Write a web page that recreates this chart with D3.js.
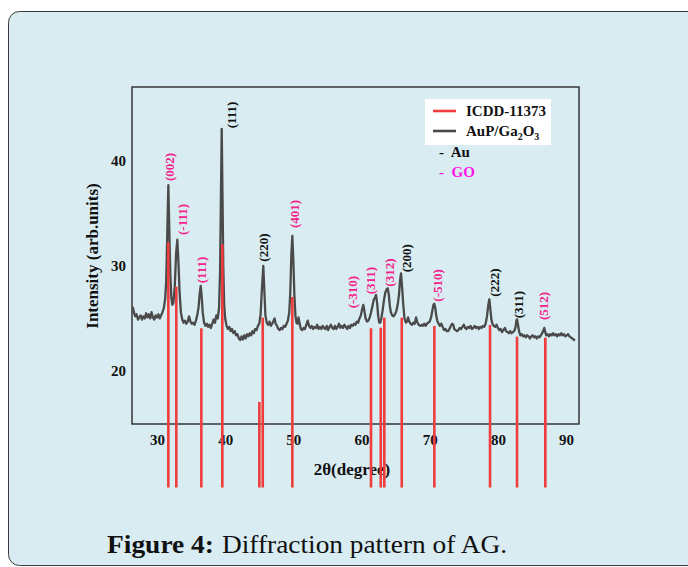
<!DOCTYPE html>
<html>
<head>
<meta charset="utf-8">
<script src="https://cdn.jsdelivr.net/npm/d3@7"></script>
<style>
  html, body { margin: 0; padding: 0; background: #ffffff; }
  svg { display: block; }
</style>
</head>
<body>
<svg id="canvas"></svg>
<script>
// ---- data ----
const xTicks = [30, 40, 50, 60, 70, 80, 90];
const yTicks = [20, 30, 40];

// ICDD-11373 reference lines: [2theta, intensity top]
const icddPeaks = [
  [31.66, 32.26], [32.83, 28.03], [36.50, 24.07], [39.58, 32.07],
  [45.01, 17.05], [45.51, 25.08], [49.85, 27.05], [61.39, 24.07],
  [62.82, 24.12], [63.34, 25.08], [65.90, 25.08], [70.68, 24.29],
  [78.85, 24.38], [82.81, 23.27], [86.96, 23.17]
];
const icddBase = 8.9;   // lines run down below the frame

// AuP/Ga2O3 measured pattern: [2theta, intensity]
const scan = [
  [26.45,26.1],[26.6,25.6],[26.8,25.2],[27.0,25.4],[27.2,24.9],[27.4,25.1],[27.6,25.3],[27.8,24.9],
  [28.0,25.2],[28.2,25.0],[28.4,25.5],[28.6,25.1],[28.8,25.4],[29.0,25.0],[29.2,25.6],[29.4,25.1],
  [29.6,24.9],[29.8,25.3],[30.0,25.1],[30.2,25.4],[30.4,25.0],[30.6,25.3],[30.8,25.6],[31.0,26.0],
  [31.2,26.9],[31.35,28.6],[31.5,33.0],[31.66,37.7],[31.8,33.5],[31.95,29.2],[32.1,27.0],[32.25,26.3],
  [32.4,26.5],[32.6,28.0],[32.8,31.2],[32.98,32.5],[33.15,30.2],[33.3,27.6],[33.5,25.6],[33.7,24.9],
  [33.9,24.6],[34.1,24.8],[34.3,24.5],[34.5,24.7],[34.7,25.2],[34.9,24.7],[35.1,24.5],[35.3,24.6],
  [35.5,24.4],[35.7,24.8],[35.9,25.3],[36.1,26.1],[36.25,27.3],[36.41,28.1],[36.55,27.1],[36.7,25.6],
  [36.9,24.6],[37.1,24.3],[37.3,24.5],[37.5,24.2],[37.7,24.4],[37.9,24.1],[38.1,24.5],[38.3,24.9],
  [38.5,24.6],[38.7,25.3],[38.9,25.0],[39.1,26.0],[39.25,29.5],[39.38,37.0],[39.49,43.05],[39.6,37.0],
  [39.72,30.0],[39.85,26.3],[40.0,25.0],[40.2,24.3],[40.4,24.0],[40.6,24.2],[40.8,23.8],[41.0,24.0],
  [41.2,23.6],[41.4,23.8],[41.6,23.4],[41.8,23.5],[42.0,23.1],[42.2,22.95],[42.4,23.3],[42.6,23.0],
  [42.8,23.4],[43.0,23.1],[43.2,23.5],[43.4,23.3],[43.6,23.6],[43.8,23.4],[44.0,23.8],[44.2,23.6],
  [44.4,24.0],[44.6,23.9],[44.8,24.3],[45.0,24.5],[45.2,25.4],[45.4,28.0],[45.59,30.0],[45.75,27.6],
  [45.9,25.3],[46.1,24.6],[46.3,24.4],[46.5,24.7],[46.7,24.3],[46.9,24.5],[47.1,24.8],[47.25,25.0],
  [47.4,24.5],[47.6,24.3],[47.8,24.0],[48.0,23.9],[48.2,24.1],[48.4,24.0],[48.6,24.3],[48.8,24.2],
  [49.0,24.5],[49.2,24.8],[49.4,25.6],[49.55,27.5],[49.7,31.0],[49.85,32.86],[50.0,30.5],[50.15,27.2],
  [50.3,25.3],[50.45,24.6],[50.6,24.5],[50.75,25.1],[50.9,24.6],[51.1,24.0],[51.3,23.9],[51.5,24.1],
  [51.7,24.0],[51.9,24.4],[52.1,24.8],[52.3,24.3],[52.5,24.1],[52.7,24.3],[52.9,24.0],[53.1,24.2],
  [53.3,24.1],[53.5,24.4],[53.7,24.0],[53.9,24.2],[54.1,24.0],[54.3,24.3],[54.5,24.1],[54.7,24.0],
  [54.9,24.3],[55.1,23.9],[55.3,24.2],[55.5,24.4],[55.7,24.1],[55.9,24.0],[56.1,24.3],[56.3,24.0],
  [56.5,24.2],[56.7,24.5],[56.9,24.1],[57.1,24.3],[57.3,24.1],[57.5,24.4],[57.7,24.2],[57.9,24.0],
  [58.1,24.3],[58.3,24.1],[58.5,24.4],[58.7,24.3],[58.9,24.5],[59.1,24.4],[59.3,24.7],[59.5,24.6],
  [59.7,25.0],[59.9,25.3],[60.1,25.9],[60.26,26.3],[60.4,25.8],[60.6,25.0],[60.8,24.7],[61.0,24.8],
  [61.2,25.1],[61.4,25.6],[61.6,26.2],[61.8,26.8],[62.0,27.0],[62.13,27.24],[62.3,26.4],[62.45,25.2],
  [62.6,24.6],[62.75,24.6],[62.9,25.0],[63.1,25.8],[63.3,26.8],[63.5,27.5],[63.7,27.8],[63.84,27.88],
  [64.0,27.3],[64.15,26.2],[64.3,25.6],[64.5,25.3],[64.7,25.2],[64.9,25.4],[65.1,25.7],[65.3,26.3],
  [65.5,27.3],[65.65,28.6],[65.79,29.3],[65.95,28.0],[66.1,26.5],[66.3,25.0],[66.5,24.6],[66.65,24.7],
  [66.82,25.1],[67.0,24.7],[67.2,24.5],[67.4,24.4],[67.6,24.6],[67.8,24.5],[68.0,25.1],[68.2,24.6],
  [68.4,24.4],[68.6,24.3],[68.8,24.4],[69.0,24.3],[69.2,24.5],[69.4,24.3],[69.6,24.5],[69.8,24.6],
  [70.0,24.7],[70.2,25.1],[70.4,25.8],[70.55,26.3],[70.68,26.4],[70.82,26.0],[70.95,25.3],[71.1,24.8],
  [71.3,24.5],[71.5,24.3],[71.7,24.5],[71.9,24.2],[72.1,23.9],[72.3,24.0],[72.5,23.8],[72.7,23.8],
  [72.9,24.0],[73.1,24.3],[73.3,24.5],[73.46,24.4],[73.6,24.0],[73.8,23.9],[74.0,23.8],[74.2,23.9],
  [74.4,24.1],[74.6,24.0],[74.8,24.2],[75.0,24.4],[75.2,24.1],[75.4,24.0],[75.6,24.2],[75.8,24.1],
  [76.0,24.3],[76.2,24.0],[76.4,24.1],[76.6,24.3],[76.8,24.1],[77.0,24.2],[77.2,24.0],[77.4,24.2],
  [77.6,24.1],[77.8,24.3],[78.0,24.2],[78.2,24.5],[78.4,25.2],[78.6,26.3],[78.75,26.83],[78.9,25.9],
  [79.05,24.9],[79.2,24.5],[79.4,24.3],[79.6,24.2],[79.8,24.4],[80.0,24.1],[80.2,23.9],[80.4,24.0],
  [80.6,23.7],[80.8,23.9],[81.05,24.1],[81.2,23.8],[81.4,23.7],[81.6,23.6],[81.8,23.8],[82.0,23.6],
  [82.2,23.7],[82.4,23.8],[82.6,24.2],[82.72,24.8],[82.81,24.92],[82.95,24.4],[83.1,23.8],[83.3,23.4],
  [83.5,23.5],[83.7,23.3],[83.9,23.4],[84.1,23.2],[84.3,23.4],[84.5,23.3],[84.7,23.1],[84.9,23.3],
  [85.1,23.4],[85.3,23.2],[85.5,23.3],[85.7,23.1],[85.9,23.3],[86.1,23.2],[86.3,23.4],[86.5,23.6],
  [86.7,23.9],[86.81,24.1],[86.95,23.7],[87.1,23.4],[87.3,23.5],[87.5,23.3],[87.7,23.5],[87.9,23.4],
  [88.1,23.6],[88.3,23.4],[88.5,23.5],[88.7,23.3],[88.9,23.5],[89.1,23.4],[89.3,23.6],[89.5,23.4],
  [89.7,23.5],[89.9,23.3],[90.1,23.4],[90.3,23.5],[90.5,23.3],[90.7,23.2],[90.9,23.1],[91.1,23.0],
  [91.3,22.9]
];

// peak labels: text, phase, 2theta of label, intensity at label foot
const peakLabels = ['(002)', '(-111)', '(111)', '(111)', '(220)', '(401)', '(-310)', '(311)',
                    '(312)', '(200)', '(-510)', '(222)', '(311)', '(512)'];
const peakPhase  = ['GO', 'GO', 'GO', 'Au', 'Au', 'GO', 'GO', 'GO', 'GO', 'Au', 'GO', 'Au', 'Au', 'GO'];
const peakAt     = [31.76, 33.71, 36.45, 40.96, 45.59, 50.10, 58.71, 61.25, 64.03, 66.63, 71.18, 79.44, 83.0, 86.67];
const peakFoot   = [38.10, 32.95, 28.35, 43.11, 30.41, 33.62, 25.97, 27.30, 28.03, 29.40, 26.60, 27.08, 25.02, 24.86];

function drawChart() {
  const width = 688;
  const height = 567;
  const serif = "'Liberation Serif', 'Times New Roman', serif";
  const red = '#f03c3c';
  const grey = '#4a4a4a';
  const pink = '#f5228a';

  const svg = d3.select('#canvas')
    .attr('width', width)
    .attr('height', height);

  // card behind the figure
  svg.append('rect')
    .attr('x', 8.5).attr('y', 11.5)
    .attr('width', 700).attr('height', 554)
    .attr('rx', 11).attr('ry', 11)
    .attr('fill', '#d8ecf1')
    .attr('stroke', '#3a3a3a')
    .attr('stroke-width', 1);

  const plot = { left: 132, right: 579, top: 87, bottom: 424 };

  const x = d3.scaleLinear().domain([26.33, 91.9]).range([plot.left, plot.right]);
  const y = d3.scaleLinear().domain([14.95, 47.05]).range([plot.bottom, plot.top]);

  // axes (labels only, no tick marks)
  const xAxis = svg.append('g')
    .attr('transform', `translate(0, ${plot.bottom})`)
    .call(d3.axisBottom(x).tickValues(xTicks).tickSize(0).tickPadding(10));
  xAxis.select('.domain').remove();
  xAxis.selectAll('text')
    .attr('font-family', serif).attr('font-weight', 'bold')
    .attr('font-size', 15).attr('fill', '#111');

  const yAxis = svg.append('g')
    .attr('transform', `translate(${plot.left}, 0)`)
    .call(d3.axisLeft(y).tickValues(yTicks).tickSize(0).tickPadding(6));
  yAxis.select('.domain').remove();
  yAxis.selectAll('text')
    .attr('font-family', serif).attr('font-weight', 'bold')
    .attr('font-size', 15).attr('fill', '#111');

  // frame
  svg.append('rect')
    .attr('x', plot.left).attr('y', plot.top)
    .attr('width', plot.right - plot.left).attr('height', plot.bottom - plot.top)
    .attr('fill', 'none')
    .attr('stroke', '#2a2a2a')
    .attr('stroke-width', 1.4);

  // axis titles
  svg.append('text')
    .attr('transform', 'translate(98, 256) rotate(-90)')
    .attr('text-anchor', 'middle')
    .attr('font-family', serif).attr('font-weight', 'bold')
    .attr('font-size', 17).attr('fill', '#111')
    .text('Intensity (arb.units)');

  svg.append('text')
    .attr('x', 352).attr('y', 475)
    .attr('text-anchor', 'middle')
    .attr('font-family', serif).attr('font-weight', 'bold')
    .attr('font-size', 17).attr('fill', '#111')
    .text('2θ(degree)');

  // measured pattern
  const line = d3.line()
    .x(d => x(d[0]))
    .y(d => y(d[1]));

  svg.append('path')
    .datum(scan)
    .attr('d', line)
    .attr('fill', 'none')
    .attr('stroke', grey)
    .attr('stroke-width', 2.3)
    .attr('stroke-linejoin', 'round');

  // peak labels, written bottom-to-top
  svg.append('g')
    .selectAll('text')
    .data(peakLabels)
    .enter()
    .append('text')
    .attr('transform', (d, i) => `translate(${x(peakAt[i])}, ${y(peakFoot[i])}) rotate(-90)`)
    .attr('dy', '0.35em')
    .attr('font-family', serif).attr('font-weight', 'bold')
    .attr('font-size', 13)
    .attr('fill', (d, i) => peakPhase[i] === 'Au' ? '#111' : pink)
    .text(d => d);

  // ICDD reference sticks (drawn on top, they run below the frame)
  svg.append('g')
    .selectAll('line')
    .data(icddPeaks)
    .enter()
    .append('line')
    .attr('x1', d => x(d[0])).attr('x2', d => x(d[0]))
    .attr('y1', y(icddBase)).attr('y2', d => y(d[1]))
    .attr('stroke', red)
    .attr('stroke-width', 2.6);

  // legend
  const legend = svg.append('g');
  legend.append('rect')
    .attr('x', 425).attr('y', 99)
    .attr('width', 126).attr('height', 46)
    .attr('fill', '#ffffff');

  legend.append('line')
    .attr('x1', 433).attr('x2', 456).attr('y1', 111).attr('y2', 111)
    .attr('stroke', red).attr('stroke-width', 2.6);
  legend.append('text')
    .attr('x', 466).attr('y', 116)
    .attr('font-family', serif).attr('font-weight', 'bold')
    .attr('font-size', 15).attr('fill', '#111')
    .text('ICDD-11373');

  legend.append('line')
    .attr('x1', 433).attr('x2', 456).attr('y1', 131).attr('y2', 131)
    .attr('stroke', grey).attr('stroke-width', 2.6);
  const sample = legend.append('text')
    .attr('x', 466).attr('y', 136)
    .attr('font-family', serif).attr('font-weight', 'bold')
    .attr('font-size', 15).attr('fill', '#111');
  sample.append('tspan').text('AuP/Ga');
  sample.append('tspan').attr('dy', 4).attr('font-size', 10).text('2');
  sample.append('tspan').attr('dy', -4).text('O');
  sample.append('tspan').attr('dy', 4).attr('font-size', 10).text('3');

  legend.append('text')
    .attr('x', 439).attr('y', 157)
    .attr('font-family', serif).attr('font-weight', 'bold')
    .attr('font-size', 15).attr('fill', '#111')
    .attr('xml:space', 'preserve')
    .text('-  Au');
  legend.append('text')
    .attr('x', 439).attr('y', 177)
    .attr('font-family', serif).attr('font-weight', 'bold')
    .attr('font-size', 15).attr('fill', '#ff18e6')
    .attr('xml:space', 'preserve')
    .text('-  GO');

  // caption
  svg.append('text')
    .attr('x', 107).attr('y', 553)
    .attr('font-family', serif).attr('font-weight', 'bold')
    .attr('font-size', 26).attr('fill', '#111')
    .attr('textLength', 107).attr('lengthAdjust', 'spacingAndGlyphs')
    .text('Figure 4:');
  svg.append('text')
    .attr('x', 222).attr('y', 553)
    .attr('font-family', serif)
    .attr('font-size', 26).attr('fill', '#111')
    .attr('textLength', 285).attr('lengthAdjust', 'spacingAndGlyphs')
    .text('Diffraction pattern of AG.');
}

drawChart();
</script>
</body>
</html>
